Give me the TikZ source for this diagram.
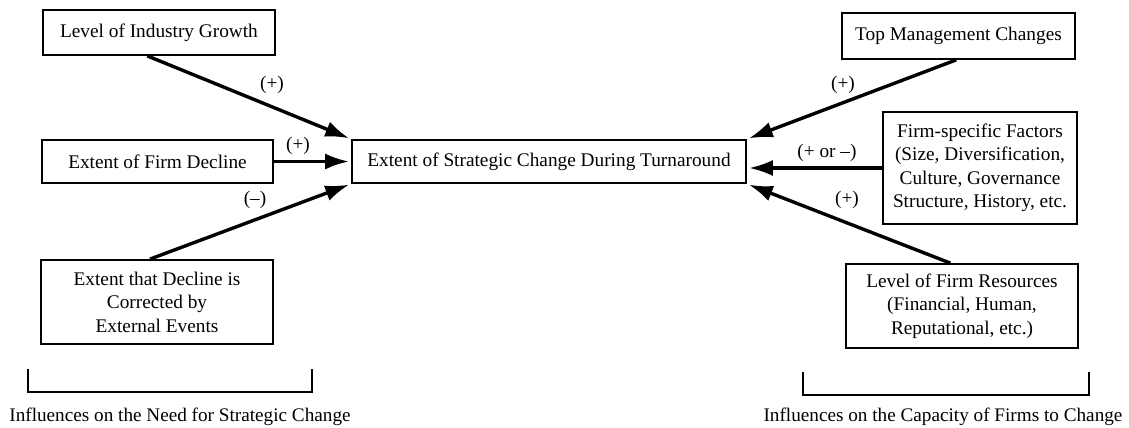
\documentclass[tikz,border=0pt]{standalone}
\usepackage{fontspec}
\setmainfont{Liberation Serif}
\usetikzlibrary{arrows.meta,calc}
\tikzset{
  box/.style={draw, line width=1.8pt, align=center, inner sep=0pt,
    font=\fontsize{19.3}{23.5}\selectfont},
  arr/.style={line width=3.4pt, -{Latex[length=24pt,width=16pt]}, shorten >=2pt},
  lbl/.style={font=\fontsize{19.3}{22}\selectfont, inner sep=0pt},
  brk/.style={line width=1.6pt},
  captext/.style={font=\fontsize{19.2}{21}\selectfont, inner sep=0pt}
}
\begin{document}
\begin{tikzpicture}[x=1pt,y=-1pt]
\useasboundingbox (0,0) rectangle (1129,428);
% nodes
\node[box, minimum width=232pt, minimum height=45pt] (A) at (159,32.5) {Level of Industry Growth};
\node[box, minimum width=231pt, minimum height=43pt] (B) at (157.5,161.5) {Extent of Firm Decline};
\node[box, minimum width=394pt, minimum height=43pt] (C) at (549,161.5) {Extent of Strategic Change During Turnaround};
\node[box, minimum width=232pt, minimum height=84pt] (D) at (157,302) {Extent that Decline is\\Corrected by\\External Events};
\node[box, minimum width=233pt, minimum height=46pt] (T) at (958.5,36) {Top Management Changes};
\node[box, minimum width=194pt, minimum height=112pt] (F) at (980,168) {Firm-specific Factors\\(Size, Diversification,\\Culture, Governance\\Structure, History, etc.};
\node[box, minimum width=232pt, minimum height=84pt] (R) at (962,306) {Level of Firm Resources\\(Financial, Human,\\Reputational, etc.)};
% connectors
\draw[arr] ($(A.south west)!0.45!(A.south east)$) -- (C.north west);
\draw[arr] (B.east) -- (C.west);
\draw[arr] ($(D.north west)!0.47!(D.north east)$) -- (C.south west);
\draw[arr] ($(T.south west)!0.49!(T.south east)$) -- (C.north east);
\draw[arr] (F.west) -- (F.west -| C.east);
\draw[arr] ($(R.north west)!0.45!(R.north east)$) -- (C.south east);
% labels
\node[lbl] (l1) at (272,85) {(+)};
\node[lbl] (l2) at (298,146) {(+)};
\node[lbl] (l3) at (255,200) {(--)};
\node[lbl] (l4) at (843,85) {(+)};
\node[lbl] (l5) at (827,153) {(+ or --)};
\node[lbl] (l6) at (847,200) {(+)};
% brackets
\coordinate (b1a) at (28,369);
\coordinate (b1b) at (312,369);
\draw[brk] (b1a) -- ++(0,23) -| (b1b);
\coordinate (b2a) at (803,372);
\coordinate (b2b) at (1089,372);
\draw[brk] (b2a) -- ++(0,23) -| (b2b);
\node[captext] (c1) at (180,417) {Influences on the Need for Strategic Change};
\node[captext] (c2) at (943,417) {Influences on the Capacity of Firms to Change};
\end{tikzpicture}
\end{document}
